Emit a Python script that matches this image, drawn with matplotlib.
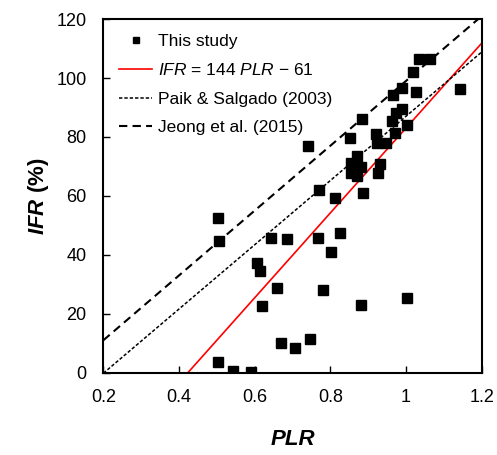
import numpy as np
import matplotlib
matplotlib.use('Agg')
import matplotlib.pyplot as plt

plt.rcParams['font.family'] = ['Liberation Sans', 'DejaVu Sans']
plt.rcParams['mathtext.fontset'] = 'custom'
plt.rcParams['mathtext.rm'] = 'Liberation Sans'
plt.rcParams['mathtext.it'] = 'Liberation Sans:italic'
plt.rcParams['mathtext.bf'] = 'Liberation Sans:italic:bold'

# measured points (This study)
plr = [0.502, 0.506, 0.644, 0.686, 0.768, 0.825, 0.802, 0.606, 0.614, 0.658,
       0.782, 0.619, 0.670, 0.706, 0.745, 0.504, 0.543, 0.589, 0.882, 1.004,
       0.741, 0.852, 0.920, 0.970, 0.924, 0.946, 0.870, 0.855, 0.880, 0.931,
       0.856, 0.870, 0.925, 0.769, 0.887, 0.812, 1.034, 1.063, 1.019, 1.144,
       0.989, 1.027, 0.967, 0.990, 0.974, 0.963, 0.884, 1.004]
ifr = [52.5, 44.7, 45.8, 45.2, 45.8, 47.3, 40.8, 37.2, 34.4, 28.8,
       28.1, 22.6, 10.0, 8.3, 11.5, 3.6, 0.4, 0.1, 22.9, 25.4,
       76.8, 79.8, 81.0, 81.2, 78.0, 78.0, 73.6, 71.2, 69.8, 70.7,
       67.9, 66.7, 67.9, 62.1, 61.0, 59.4, 106.5, 106.5, 102.2, 96.3,
       96.5, 95.4, 94.1, 89.5, 88.0, 85.4, 86.2, 83.9]

# line coefficients (slope, intercept)
fit_coef = (144, -61)
paik_coef = (109, -22)
jeong_coef = (110, -11)

xticks = [0.2, 0.4, 0.6, 0.8, 1.0, 1.2]
xticklabels = ['0.2', '0.4', '0.6', '0.8', '1', '1.2']
yticks = [0, 20, 40, 60, 80, 100, 120]

fig = plt.figure(figsize=(4.97, 4.55), dpi=100)
ax = fig.add_axes([0.208, 0.181, 0.761, 0.777])

xx = np.array([0.2, 1.2])
ax.plot(plr, ifr, 's', color='black', markersize=6.5, label='This study', zorder=5)
ax.plot(xx, fit_coef[0] * xx + fit_coef[1], color='red', lw=1.2,
        label='$\\mathit{IFR}$ = 144 $\\mathit{PLR}$ \u2212 61')
ax.plot(xx, paik_coef[0] * xx + paik_coef[1], color='black', lw=1.1,
        dashes=(2.2, 1.3), label='Paik & Salgado (2003)')
ax.plot(xx, jeong_coef[0] * xx + jeong_coef[1], color='black', lw=1.5,
        dashes=(4, 2.5), label='Jeong et al. (2015)')

ax.set_xlim(0.2, 1.2)
ax.set_ylim(0, 120)
ax.set_xticks(xticks)
ax.set_xticklabels(xticklabels)
ax.set_yticks(yticks)
ax.tick_params(direction='in', length=5, width=1, labelsize=13, pad=12,
               top=False, right=False)
for s in ax.spines.values():
    s.set_linewidth(1.5)

ax.set_xlabel('PLR', fontsize=16, fontweight='bold', fontstyle='italic', labelpad=16)
ax.set_ylabel('$\\mathbf{IFR}$ (%)', fontsize=16, fontweight='bold', labelpad=4)

ax.legend(loc='upper left', frameon=False, fontsize=12.5, handlelength=1.9,
          handletextpad=0.35, labelspacing=0.76, borderaxespad=0.3,
          markerscale=0.75, bbox_to_anchor=(0.01, 0.992))

fig.savefig('out.png', dpi=100)
